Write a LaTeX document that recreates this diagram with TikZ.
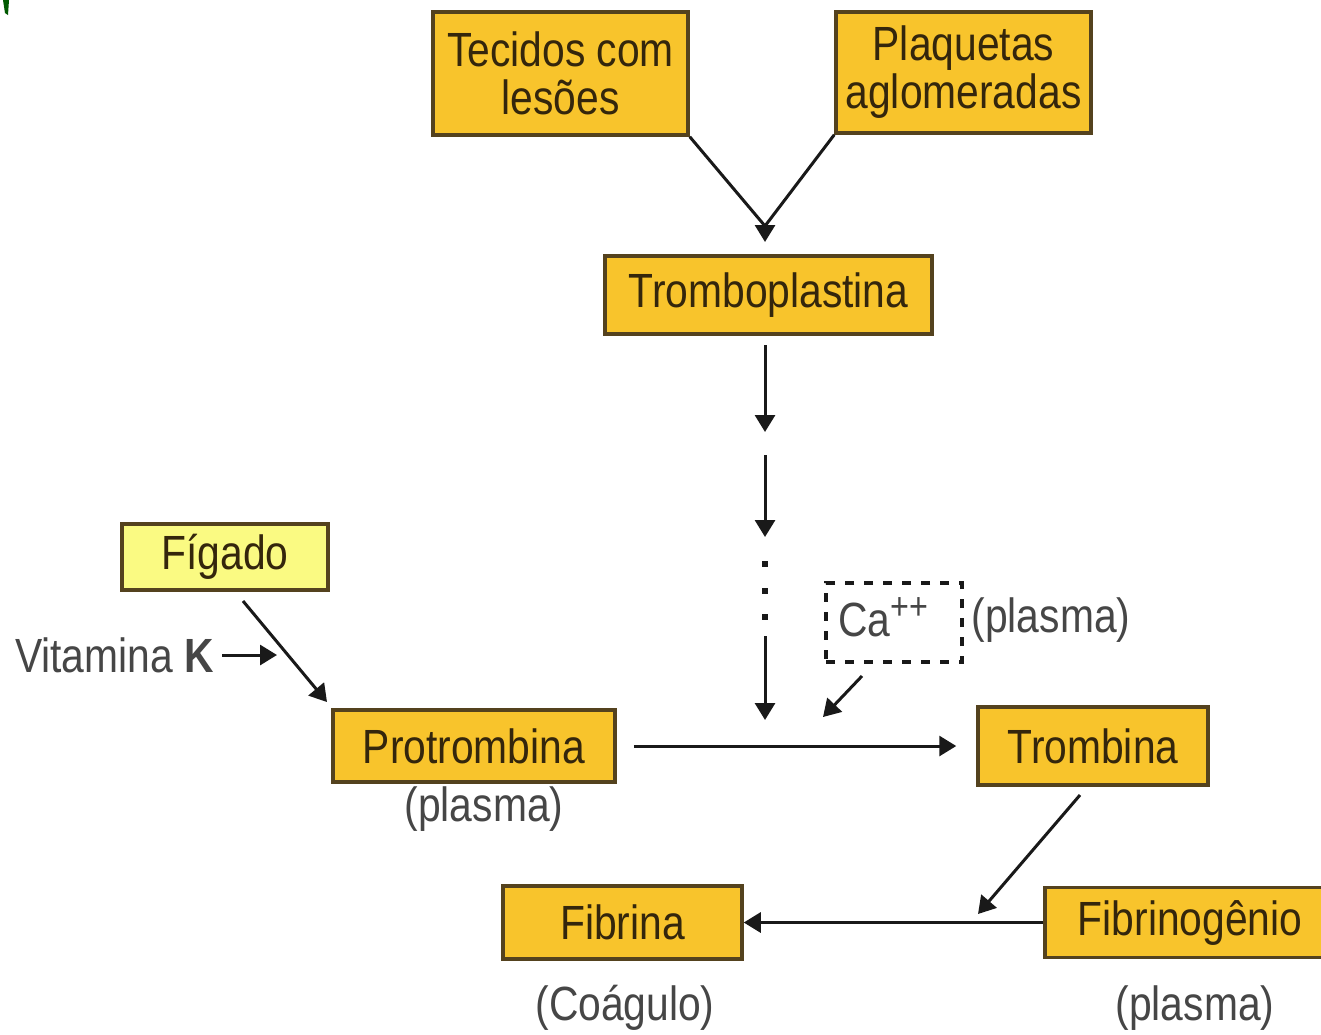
\documentclass[tikz,border=0pt]{standalone}
\usepackage{fontspec}
\setmainfont{Liberation Sans}[FakeStretch=0.85]
\usetikzlibrary{arrows.meta}
\definecolor{gold}{RGB}{248,196,44}
\definecolor{lemon}{RGB}{250,250,130}
\definecolor{boxline}{RGB}{84,66,30}
\definecolor{boxtext}{RGB}{52,38,12}
\definecolor{note}{RGB}{70,70,70}
\definecolor{ink}{RGB}{25,25,25}
\begin{document}
\begin{tikzpicture}[x=1pt,y=-1pt,
  txt/.style={font=\fontsize{48}{48}\selectfont},
  stage/.style={txt,draw=boxline,line width=3.5pt,fill=gold,text=boxtext,
    inner sep=0pt,align=center},
  liver/.style={stage,fill=lemon},
  label/.style={txt,text=note,inner sep=0pt},
  line/.style={draw=ink,line width=3pt},
  arr/.style={line,-{Triangle[length=17pt,width=20pt]}}]
\useasboundingbox (0,0) rectangle (1321,1034);
\clip (0,0) rectangle (1321,1034);
\fill[white] (0,0) rectangle (1321,1034);
% small mark in the corner
\fill[green!35!black] (3,0) -- (9,0) -- (8,15) -- (5,13) -- cycle;

% stages
\node[stage,minimum width=255pt,minimum height=123pt] (tec) at (560.5,73.5) {Tecidos com\\lesões};
\node[stage,minimum width=255pt,minimum height=121pt] (plq) at (963.5,72.5) {Plaquetas\\aglomeradas};
\node[stage,minimum width=327pt,minimum height=78pt] (tpl) at (768.5,295) {Tromboplastina};
\node[liver,minimum width=206pt,minimum height=66pt] (fig) at (225,557) {Fígado};
\node[stage,minimum width=282pt,minimum height=72pt] (pro) at (474,746) {Protrombina};
\node[stage,minimum width=230pt,minimum height=78pt] (trb) at (1093,746) {Trombina};
\node[stage,minimum width=239pt,minimum height=73pt] (fbr) at (622.5,922.5) {Fibrina};
\node[stage,minimum width=290pt,minimum height=70pt] (fbg) at (1190,922.5) {Fibrinogênio};

% side labels
\node[label] (pplas) at (484,809) {(plasma)};
\node[label] (coag) at (625,1008) {(Coágulo)};
\node[label] (gplas) at (1195,1008) {(plasma)};
\node[label,anchor=east] (vitk) at (214,655) {Vitamina \textbf{K}};
\node[draw=ink,dash pattern=on 9pt off 10pt,line width=3.5pt,
  minimum width=136pt,minimum height=79pt,inner sep=0pt] (ca) at (894,622.5) {};
\node[label,anchor=base west] (catxt) at (838,636) {Ca\raisebox{17pt}{\fontsize{38}{38}\selectfont ++}};
\node[label] (cplas) at (1051,620) {(plasma)};

% free ends of the connectors
\coordinate (meet) at (765,242);
\coordinate (meetup) at (765,226);
\coordinate (s1a) at (765,345);
\coordinate (s1b) at (765,432);
\coordinate (s2a) at (765,455);
\coordinate (s2b) at (765,537);
\coordinate (s3a) at (765,636);
\coordinate (s3b) at (765,720);
\coordinate (caa) at (862,676);
\coordinate (cab) at (823,717);
\coordinate (figa) at (243,601);
\coordinate (figb) at (327,702);
\coordinate (vita) at (222,655);
\coordinate (vitb) at (277,655);
\coordinate (trba) at (1080,795);
\coordinate (trbb) at (978,914);

% connectors
\draw[line] (tec.south east) -- (meetup);
\draw[line] (plq.south west) -- (meetup);
\draw[arr] (meetup) -- (meet);
\draw[arr] (s1a) -- (s1b);
\draw[arr] (s2a) -- (s2b);
\foreach \yy in {564,591,617} \fill[ink] (762,\yy-3) rectangle (768,\yy+3);
\draw[arr] (s3a) -- (s3b);
\draw[arr] (caa) -- (cab);
\draw[arr] (figa) -- (figb);
\draw[arr] (vita) -- (vitb);
\draw[arr,shorten <=17pt,shorten >=20pt] (pro.east) -- (trb.west);
\draw[arr] (trba) -- (trbb);
\draw[arr] (fbg.west) -- (fbr.east);
\end{tikzpicture}
\end{document}
